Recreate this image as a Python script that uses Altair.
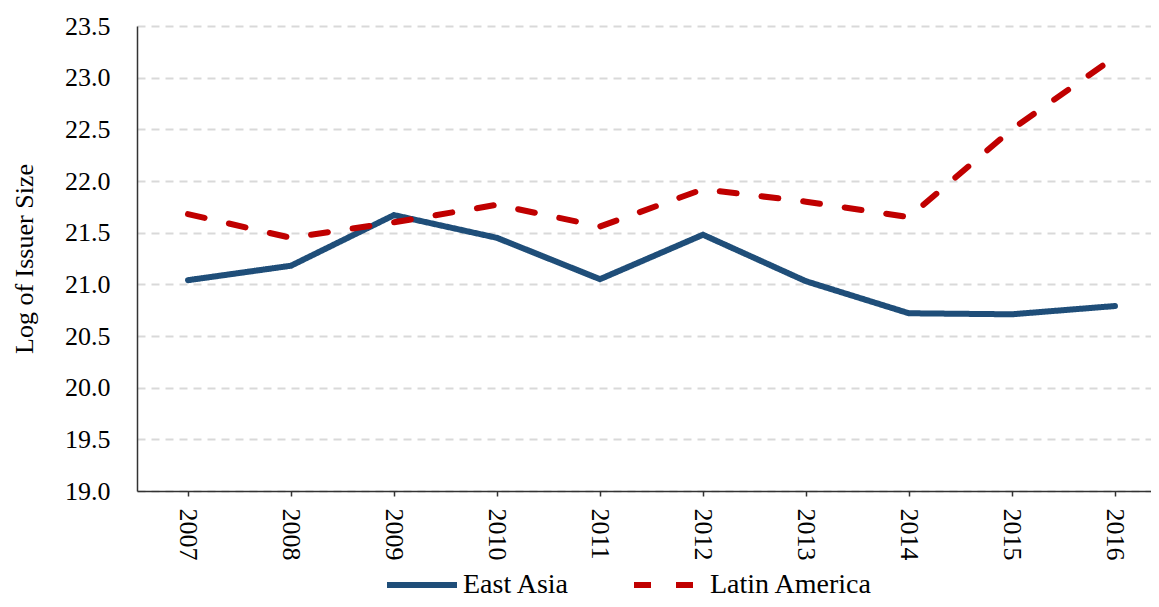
import altair as alt
import pandas as pd

years = [2007, 2008, 2009, 2010, 2011, 2012, 2013, 2014, 2015, 2016]
east_asia = [21.04, 21.18, 21.67, 21.45, 21.05, 21.48, 21.03, 20.72, 20.71, 20.79]
latin_america = [21.68, 21.45, 21.60, 21.77, 21.56, 21.92, 21.80, 21.65, 22.50, 23.20]
series_names = ["East Asia", "Latin America"]
y_ticks = [19.0, 19.5, 20.0, 20.5, 21.0, 21.5, 22.0, 22.5, 23.0, 23.5]

df = pd.DataFrame({"Year": years, "East Asia": east_asia, "Latin America": latin_america})
long = df.melt(id_vars="Year", var_name="Region", value_name="Value")

FONT = "Liberation Serif"

chart = (
    alt.Chart(long)
    .mark_line(strokeWidth=6, strokeCap="round", strokeJoin="round")
    .encode(
        x=alt.X(
            "Year:Q",
            scale=alt.Scale(domain=[2006.505, 2016.35], nice=False, zero=False),
            axis=alt.Axis(
                values=years,
                format="d",
                labelAngle=90,
                grid=False,
                tickSize=5,
                labelPadding=12,
                title=None,
            ),
        ),
        y=alt.Y(
            "Value:Q",
            scale=alt.Scale(domain=[19.0, 23.5], nice=False, zero=False),
            axis=alt.Axis(
                values=y_ticks,
                format=".1f",
                title="Log of Issuer Size",
                ticks=False,
                labelPadding=27,
                titlePadding=27,
                grid=True,
                gridDash=[8, 6],
                gridColor="#d9d9d9",
                gridWidth=2,
            ),
        ),
        color=alt.Color(
            "Region:N",
            scale=alt.Scale(domain=series_names, range=["#1F4E79", "#C00000"]),
            legend=alt.Legend(
                title=None,
                orient="none",
                direction="horizontal",
                legendX=247,
                legendY=521,
                symbolType="stroke",
                symbolSize=4900,
                symbolStrokeWidth=6,
                labelOffset=3,
                columnPadding=52,
                labelLimit=400,
                labelFont=FONT,
                labelFontSize=28,
                labelColor="#000000",
            ),
        ),
        strokeDash=alt.StrokeDash(
            "Region:N",
            scale=alt.Scale(domain=series_names, range=[[1, 0], [17, 25]]),
            legend=None,
        ),
    )
    .properties(
        width=1014,
        height=465,
        autosize=alt.AutoSizeParams(type="none"),
        padding={"left": 129, "top": 18, "right": 0, "bottom": 108},
    )
    .configure_view(stroke=None)
    .configure_axis(
        labelFont=FONT,
        titleFont=FONT,
        labelFontSize=26,
        titleFontSize=26,
        titleFontWeight="normal",
        labelColor="#000000",
        titleColor="#000000",
        domainColor="#333333",
        domainWidth=1.5,
        tickColor="#333333",
        tickWidth=1.5,
    )
    .configure_legend(labelFont=FONT, labelFontSize=28, labelColor="#000000", labelLimit=400)
)

chart.save("out.html", embed_options={"renderer": "svg", "actions": False})
